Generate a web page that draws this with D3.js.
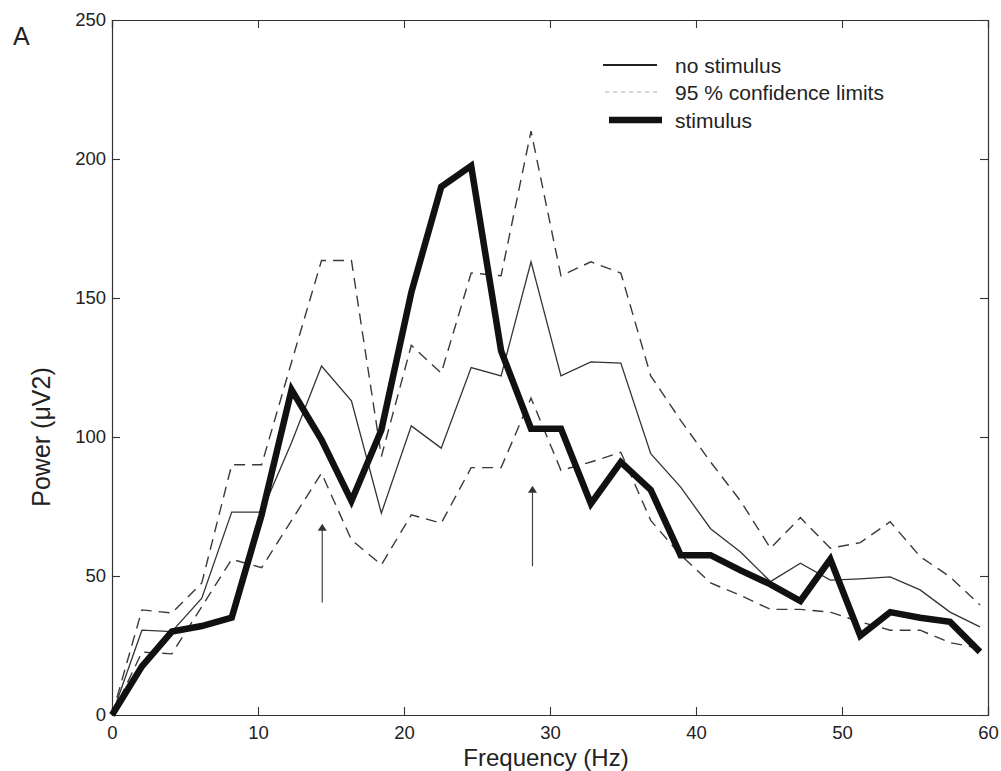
<!DOCTYPE html>
<html>
<head>
<meta charset="utf-8">
<script src="https://cdn.jsdelivr.net/npm/d3@7"></script>
<style>
  html, body { margin: 0; padding: 0; background: #fff; }
  svg { display: block; }
  text { font-family: "Liberation Sans", Arial, Helvetica, sans-serif; fill: #222; }
</style>
</head>
<body>
<svg id="chart" width="1001" height="771"></svg>
<script>
// Frequency bins (Hz)
const freqHz = [0, 2.05, 4.1, 6.15, 8.2, 10.25, 12.3, 14.35, 16.4, 18.45, 20.5, 22.55,
  24.6, 26.65, 28.7, 30.75, 32.8, 34.85, 36.9, 38.95, 41, 43.05, 45.1, 47.15, 49.2,
  51.25, 53.3, 55.35, 57.4, 59.45];

// Power spectra (µV²)
const noStimulus = [0, 30.5, 30, 42, 73, 73, 98, 125.5, 113, 72.6, 104, 96, 125, 122,
  163, 122, 127, 126.6, 94, 82, 67, 58.6, 48, 54.6, 48.5, 49, 49.7, 45, 37, 31.7];
const upperLimit = [0, 37.8, 36.7, 47.5, 90, 90, 127, 163.5, 163.5, 93, 133, 123, 159,
  158, 210, 158, 163, 159, 122, 106, 91, 77, 60, 71, 60, 62, 69.5, 57, 49.7, 39.6];
const lowerLimit = [0, 22.6, 22, 39, 56, 53, 70, 87, 63, 54, 72, 69, 89, 89, 114, 88,
  91, 94.5, 70, 57.5, 47.5, 43, 38, 38, 37, 33.5, 30.5, 30.5, 26, 24];
const stimulus = [0, 17.5, 30, 32, 35, 72, 117, 99, 77, 102.5, 152, 190, 197.5, 131,
  103, 103, 76, 91, 81, 57.5, 57.5, 52, 47, 41, 56, 28.5, 37, 35, 33.5, 22.7];

// Marker arrows: frequency, base power, tip power
const arrowFreq = [14.4, 28.8];
const arrowBase = [40.5, 53.5];
const arrowTip = [68.8, 82.5];

// Axis ticks
const xTicks = [0, 10, 20, 30, 40, 50, 60];
const yTicks = [0, 50, 100, 150, 200, 250];

const legendLabels = ["no stimulus", "95 % confidence limits", "stimulus"];

const svg = d3.select("#chart");
const L = 112, R = 988, T = 20, B = 715;

const x = d3.scaleLinear().domain([0, 60]).range([L, R]);
const y = d3.scaleLinear().domain([0, 250]).range([B, T]);

const axisColor = "#333";
const tickLen = 8;

// Ticks pointing inward on all four sides
const bottomAxis = svg.append("g").attr("transform", `translate(0,${B})`)
  .call(d3.axisBottom(x).tickValues(xTicks).tickSize(-tickLen).tickPadding(11).tickFormat(d3.format("d")));
const topAxis = svg.append("g").attr("transform", `translate(0,${T})`)
  .call(d3.axisTop(x).tickValues(xTicks).tickSize(-tickLen).tickFormat(""));
const leftAxis = svg.append("g").attr("transform", `translate(${L},0)`)
  .call(d3.axisLeft(y).tickValues(yTicks).tickSize(-tickLen).tickPadding(6).tickFormat(d3.format("d")));
const rightAxis = svg.append("g").attr("transform", `translate(${R},0)`)
  .call(d3.axisRight(y).tickValues(yTicks).tickSize(-tickLen).tickFormat(""));

[bottomAxis, topAxis, leftAxis, rightAxis].forEach(g => {
  g.select(".domain").attr("stroke", axisColor).attr("stroke-width", 1.2);
  g.selectAll(".tick line").attr("stroke", axisColor).attr("stroke-width", 1.1);
  g.selectAll(".tick text").attr("fill", "#222").style("font-size", "18.5px")
    .style("font-family", '"Liberation Sans", Arial, sans-serif');
});

const line = d3.line().x((d, i) => x(freqHz[i])).y(d => y(d));

const plot = svg.append("g");

// Confidence limits
[upperLimit, lowerLimit].forEach(series => {
  plot.append("path").datum(series).attr("d", line)
    .attr("fill", "none").attr("stroke", "#3a3a3a").attr("stroke-width", 1.4)
    .attr("stroke-dasharray", "11,7");
});

// Baseline spectrum
plot.append("path").datum(noStimulus).attr("d", line)
  .attr("fill", "none").attr("stroke", "#333").attr("stroke-width", 1.3);

// Stimulus spectrum
plot.append("path").datum(stimulus).attr("d", line)
  .attr("fill", "none").attr("stroke", "#111").attr("stroke-width", 6.5)
  .attr("stroke-linejoin", "miter").attr("stroke-miterlimit", 4);

// Arrows
arrowFreq.forEach((f, i) => {
  const ax = x(f), yb = y(arrowBase[i]), yt = y(arrowTip[i]);
  plot.append("line").attr("x1", ax).attr("x2", ax).attr("y1", yb).attr("y2", yt + 4)
    .attr("stroke", "#444").attr("stroke-width", 1.2);
  plot.append("path")
    .attr("d", `M${ax},${yt} L${ax - 4.5},${yt + 7} L${ax + 4.5},${yt + 7} Z`)
    .attr("fill", "#333");
});

// Legend
const lg = svg.append("g");
const rows = [
  { y: 65, stroke: "#222", width: 1.8, dash: null, x1: 603, x2: 657 },
  { y: 92, stroke: "#aaa", width: 1, dash: "4,4", x1: 605, x2: 660 },
  { y: 120, stroke: "#111", width: 6.5, dash: null, x1: 609, x2: 662 }
];
rows.forEach((r, i) => {
  lg.append("line").attr("x1", r.x1).attr("x2", r.x2).attr("y1", r.y).attr("y2", r.y)
    .attr("stroke", r.stroke).attr("stroke-width", r.width)
    .attr("stroke-dasharray", r.dash);
  lg.append("text").attr("x", 675).attr("y", r.y + 8)
    .style("font-size", "21px").text(legendLabels[i]);
});

// Axis titles and panel letter
svg.append("text").attr("x", 546).attr("y", 766).attr("text-anchor", "middle")
  .style("font-size", "24px").text("Frequency (Hz)");
svg.append("text").attr("transform", "translate(50,437) rotate(-90)")
  .attr("text-anchor", "middle").style("font-size", "25px").text("Power (μV2)");
svg.append("text").attr("x", 13).attr("y", 45).style("font-size", "25px").text("A");
</script>
</body>
</html>
